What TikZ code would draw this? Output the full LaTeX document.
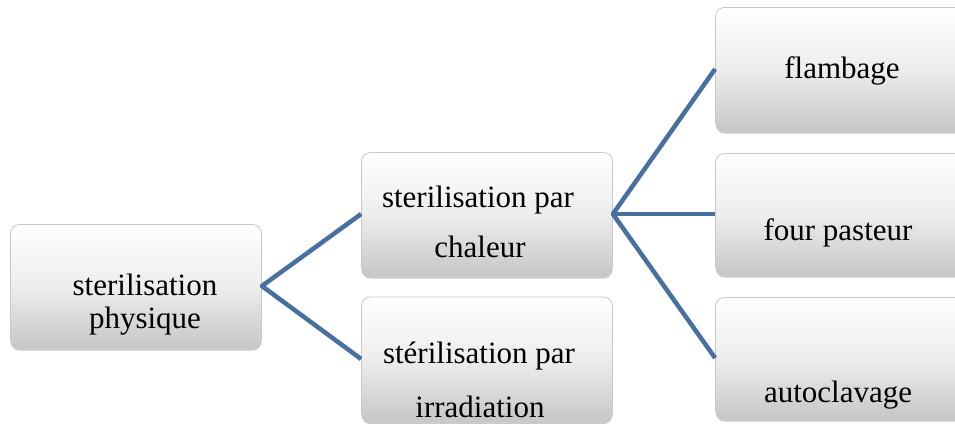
\documentclass[tikz,border=0pt]{standalone}
\usepackage{fontspec}
\setmainfont{Liberation Serif}
\usetikzlibrary{shadows}
\definecolor{linkblue}{RGB}{70,112,163}
\definecolor{boxedge}{RGB}{200,200,200}
\tikzset{
  box/.style={rectangle, rounded corners=9pt, draw=boxedge, line width=0.8pt,
    top color=white, bottom color=black!22, middle color=black!7,
    inner sep=0pt, minimum width=251pt, minimum height=123pt,
    drop shadow={shadow xshift=0pt, shadow yshift=-3pt, opacity=0.35, fill=black!60}},
  lbl/.style={font=\fontsize{31}{36}\selectfont, inner sep=0pt, anchor=base, text=black},
  link/.style={draw=linkblue, line width=4.5pt, line join=round}
}
\begin{document}
\begin{tikzpicture}[x=1pt,y=-1pt]
\useasboundingbox (0,0) rectangle (955,423);
\clip (0,0) rectangle (955,423);
\node[box] (A) at (136,286) {};
\node[box] (B) at (487,214) {};
\node[box, minimum height=124pt] (C) at (487,359) {};
\node[box] (D) at (841,69) {};
\node[box, minimum height=121pt] (E) at (841,214) {};
\node[box, minimum height=121pt] (F) at (841,358) {};
\node[lbl] (tA1) at (145,295) {sterilisation};
\node[lbl] (tA2) at (145,328) {physique};
\node[lbl] (tB1) at (478,207) {sterilisation par};
\node[lbl] (tB2) at (480,257) {chaleur};
\node[lbl] (tC1) at (479,363) {stérilisation par};
\node[lbl] (tC2) at (480,417) {irradiation};
\node[lbl] (tD) at (842,78) {flambage};
\node[lbl] (tE) at (838,240) {four pasteur};
\node[lbl] (tF) at (838,402) {autoclavage};
\draw[link] (B.west) -- (A.east) -- (C.west);
\draw[link] (D.west) -- (B.east) -- (F.west);
\draw[link] (B.east) -- (E.west);
\end{tikzpicture}
\end{document}
